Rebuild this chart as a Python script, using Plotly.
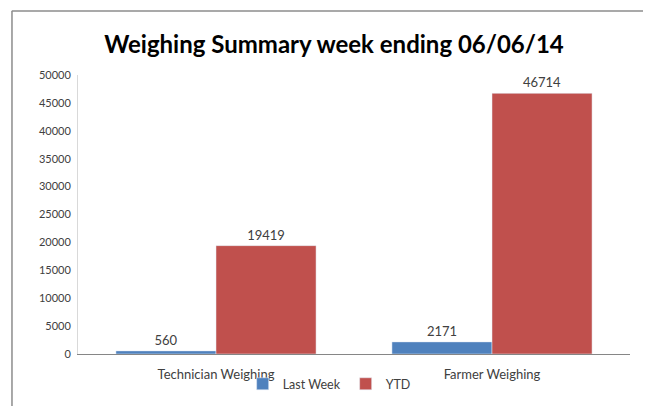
import plotly.graph_objects as go

categories = ["Technician Weighing", "Farmer Weighing"]
last_week = [560, 2171]
ytd = [19419, 46714]
y_ticks = [0, 5000, 10000, 15000, 20000, 25000, 30000, 35000, 40000, 45000, 50000]

FONT = "Lato, Liberation Sans, sans-serif"

fig = go.Figure()
fig.add_trace(go.Bar(name="Last Week", x=categories, y=last_week, marker_color="#4F81BD",
                     text=[str(v) for v in last_week], textposition="outside",
                     textfont=dict(size=13, color="#404040", family=FONT), cliponaxis=False))
fig.add_trace(go.Bar(name="YTD", x=categories, y=ytd, marker_color="#C0504D",
                     text=[str(v) for v in ytd], textposition="outside",
                     textfont=dict(size=13, color="#404040", family=FONT), cliponaxis=False))

# page body has an 8px margin, so the figure is 643x398 and offset by 8px
fig.update_layout(
    width=643, height=398,
    margin=dict(l=70, r=21, t=67, b=52, autoexpand=False),
    paper_bgcolor="white", plot_bgcolor="white",
    barmode="group", bargap=0.275, bargroupgap=0,
    font=dict(family=FONT, size=12, color="#404040"),
    title=dict(text="<b>Weighing Summary week ending 06/06/14</b>",
               x=0.507, xanchor="center", y=0.907, yanchor="middle",
               font=dict(family=FONT, size=24, color="black")),
    showlegend=True,
    legend=dict(orientation="h", x=0.455, xanchor="center", y=-0.108, yanchor="middle",
                font=dict(size=12.5, color="#404040"), bgcolor="rgba(0,0,0,0)",
                itemwidth=30, tracegroupgap=0),
    xaxis=dict(showline=True, linecolor="#868686", linewidth=1, ticks="",
               showgrid=False, ticklabelstandoff=8,
               tickfont=dict(size=13, color="#404040")),
    yaxis=dict(range=[0, 50000], tickvals=y_ticks, ticktext=[str(v) for v in y_ticks],
               showline=True, linecolor="#D9D9D9", linewidth=1, showgrid=False,
               zeroline=False, ticks="", ticklabelstandoff=4,
               tickfont=dict(size=11, color="#404040")),
    shapes=[
        dict(type="line", xref="paper", yref="paper", x0=-0.12, x1=1.05, y0=1.229, y1=1.229,
             line=dict(color="#8C8C8C", width=1.5)),
        dict(type="line", xref="paper", yref="paper", x0=-0.1196, x1=-0.1196, y0=1.229, y1=-0.2,
             line=dict(color="#8C8C8C", width=1.5)),
    ],
)

fig.write_html("out.html")
